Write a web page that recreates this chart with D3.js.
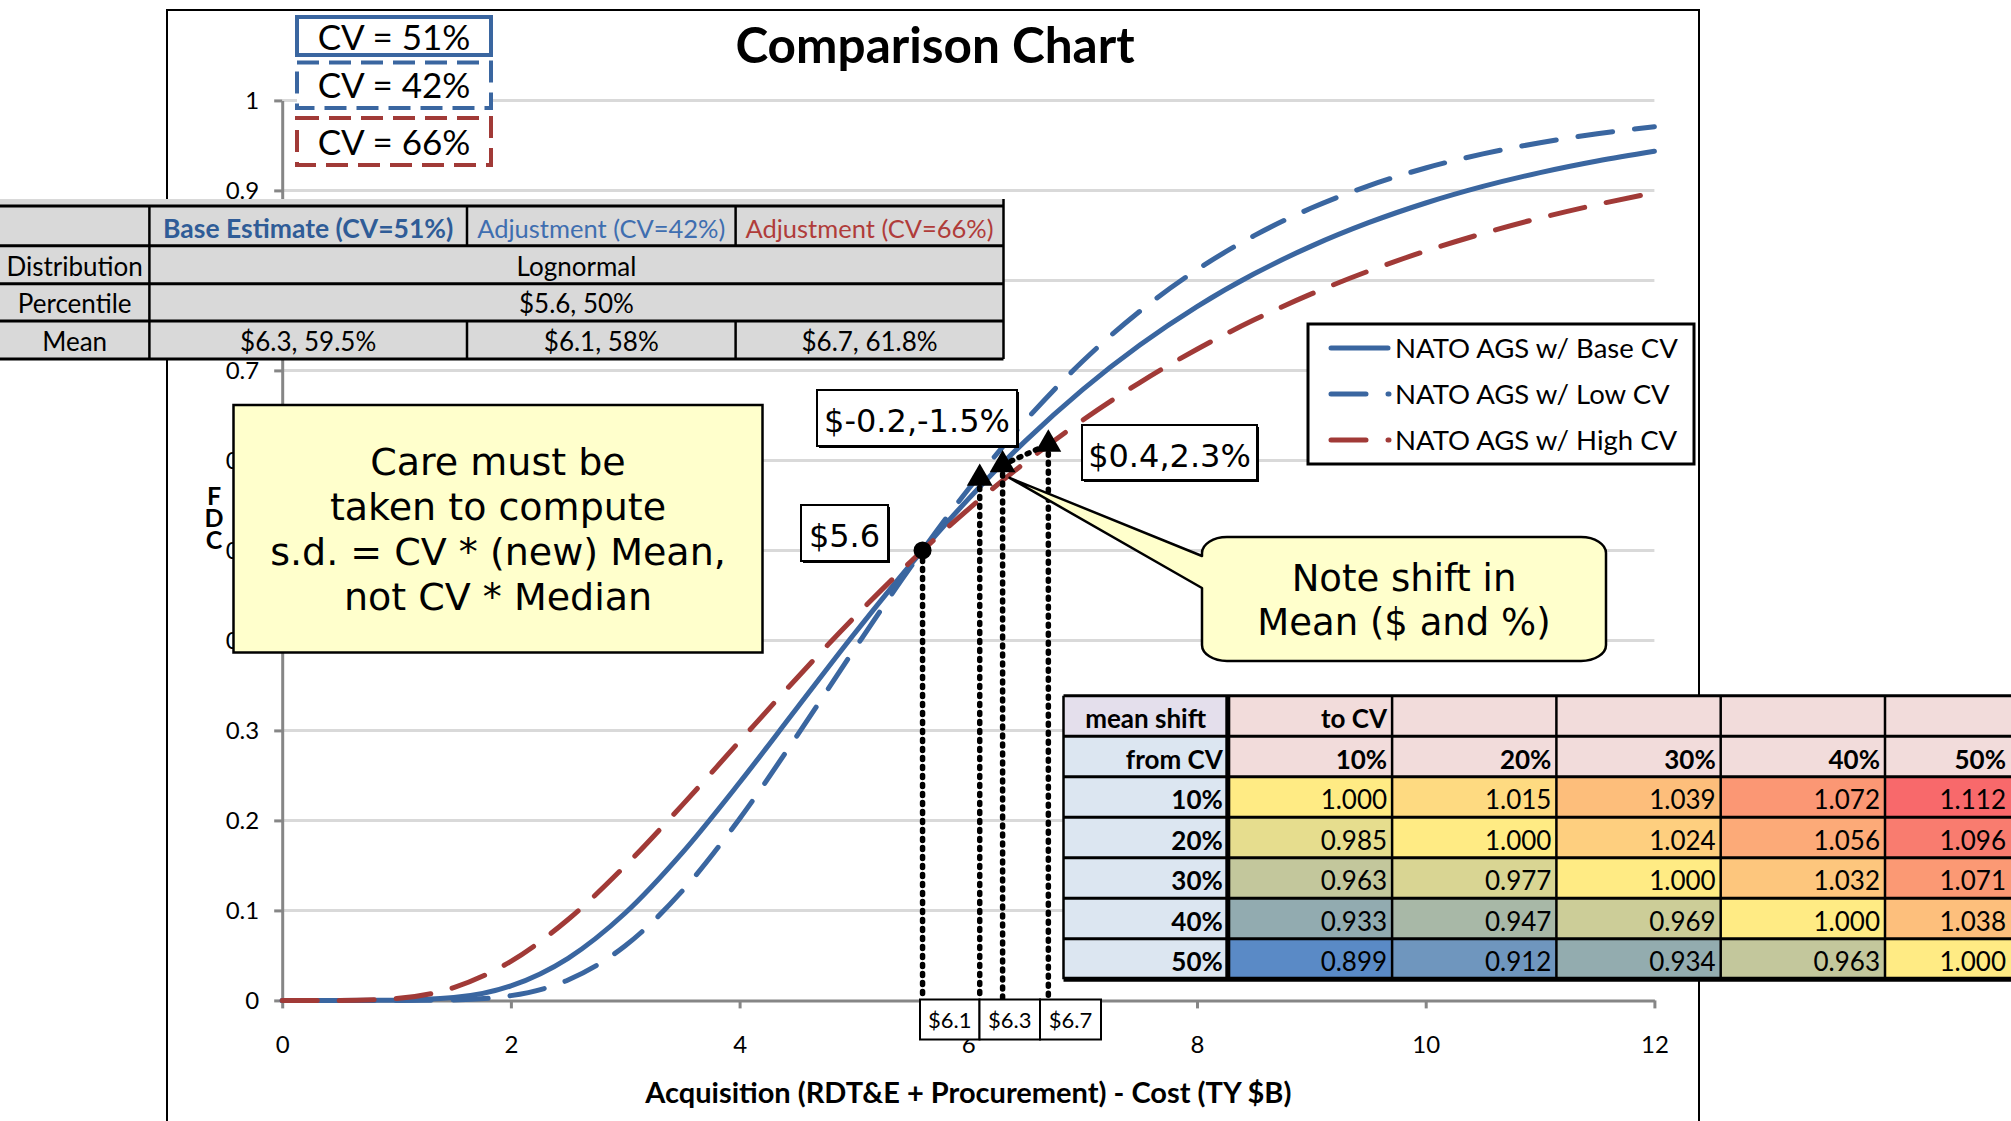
<!DOCTYPE html>
<html>
<head>
<meta charset="utf-8">
<script src="https://cdn.jsdelivr.net/npm/d3@7"></script>
<style>
  body { margin: 0; background: #fff; }
  svg { display: block; }
  text { font-family: Lato, "Noto Sans", sans-serif; fill: #000; }
  .vd { font-family: "DejaVu Sans", Verdana, sans-serif; }
  .stack { writing-mode: vertical-rl; text-orientation: upright; }
</style>
</head>
<body>
<svg id="chart" width="2011" height="1121"></svg>
<script>
// ---- data -------------------------------------------------------------
const costX    = [0, 0.5, 1, 1.5, 2, 2.5, 3, 3.5, 4, 4.5, 5, 5.5, 6, 6.5, 7, 7.5, 8, 8.5, 9, 9.5, 10, 10.5, 11, 11.5, 12];
const cdfBase  = [0, 0.0000, 0.0002, 0.0031, 0.0161, 0.0468, 0.0971, 0.1642, 0.2421, 0.3246, 0.4068, 0.4851, 0.5570, 0.6217, 0.6787, 0.7282, 0.7709, 0.8073, 0.8381, 0.8641, 0.8860, 0.9044, 0.9198, 0.9327, 0.9435];
const cdfLow   = [0, 0.0000, 0.0000, 0.0005, 0.0053, 0.0227, 0.0607, 0.1218, 0.2019, 0.2937, 0.3893, 0.4822, 0.5680, 0.6442, 0.7101, 0.7657, 0.8119, 0.8497, 0.8804, 0.9051, 0.9249, 0.9406, 0.9530, 0.9629, 0.9707];
const cdfHigh  = [0, 0.0000, 0.0021, 0.0142, 0.0434, 0.0899, 0.1496, 0.2172, 0.2879, 0.3580, 0.4252, 0.4880, 0.5457, 0.5979, 0.6447, 0.6865, 0.7235, 0.7562, 0.7850, 0.8103, 0.8326, 0.8521, 0.8693, 0.8843, 0.8975];
const seriesNames = ["NATO AGS w/ Base CV", "NATO AGS w/ Low CV", "NATO AGS w/ High CV"];
const cvLabels    = ["CV = 51%", "CV = 42%", "CV = 66%"];
const yTitle      = "FDC";

const xTicks = [0, 2, 4, 6, 8, 10, 12];
const yTicks = [0, 0.1, 0.2, 0.3, 0.4, 0.5, 0.6, 0.7, 0.8, 0.9, 1];

// median point and the three means (cost $B, cumulative probability)
const medianCost = 5.6, medianProb = 0.5;
const meanCost   = [6.1, 6.3, 6.7];          // low CV, base CV, high CV
const meanProb   = [0.58, 0.595, 0.618];
const meanLabels = ["$6.1", "$6.3", "$6.7"];
const shiftLabels = ["$-0.2,-1.5%", "$0.4,2.3%"];

// summary table
const estHeaders = ["Base Estimate (CV=51%)", "Adjustment (CV=42%)", "Adjustment (CV=66%)"];
const rowHeads   = ["Distribution", "Percentile", "Mean"];
const distName   = "Lognormal";
const pctText    = "$5.6, 50%";
const meanTexts  = ["$6.3, 59.5%", "$6.1, 58%", "$6.7, 61.8%"];

// mean-shift multiplier table
const fromCV = ["10%", "20%", "30%", "40%", "50%"];
const toCV   = ["10%", "20%", "30%", "40%", "50%"];
const shiftValues = [
  [1.000, 1.015, 1.039, 1.072, 1.112],
  [0.985, 1.000, 1.024, 1.056, 1.096],
  [0.963, 0.977, 1.000, 1.032, 1.071],
  [0.933, 0.947, 0.969, 1.000, 1.038],
  [0.899, 0.912, 0.934, 0.963, 1.000]
];

const noteLines = ["Care must be", "taken to compute", "s.d. = CV * (new) Mean,", "not CV * Median"];
const calloutLines = ["Note shift in", "Mean ($ and %)"];

// ---- setup ------------------------------------------------------------
const BLUE = "#3a66a0", RED = "#a13a37", GRID = "#d9d9d9", AXIS = "#868686";
const svg = d3.select("#chart");
svg.append("rect").attr("width", 2011).attr("height", 1121).attr("fill", "#fff");

const x = d3.scaleLinear().domain([0, 12]).range([282.2, 1654.4]);
const y = d3.scaleLinear().domain([0, 1]).range([1000.4, 100.4]);

// chart frame
svg.append("rect").attr("x", 167).attr("y", 10).attr("width", 1532).attr("height", 1160)
  .attr("fill", "none").attr("stroke", "#000").attr("stroke-width", 2);

// gridlines
svg.append("g").selectAll("line").data(yTicks.filter(d => d > 0)).join("line")
  .attr("x1", x(0)).attr("x2", x(12)).attr("y1", d => y(d)).attr("y2", d => y(d))
  .attr("stroke", GRID).attr("stroke-width", 3);

// axes
const yAxis = svg.append("g").attr("transform", `translate(${x(0)},0)`)
  .call(d3.axisLeft(y).tickValues(yTicks).tickSize(8).tickSizeOuter(0).tickPadding(15)
    .tickFormat(d => d === 0 ? "0" : d === 1 ? "1" : d3.format(".1f")(d)));
const xAxis = svg.append("g").attr("transform", `translate(0,${y(0)})`)
  .call(d3.axisBottom(x).tickValues(xTicks).tickSize(8).tickSizeOuter(0).tickPadding(28)
    .tickFormat(d3.format("d")));
[yAxis, xAxis].forEach(g => {
  g.select(".domain").attr("stroke", AXIS).attr("stroke-width", 3);
  g.selectAll(".tick line").attr("stroke", AXIS).attr("stroke-width", 3);
  g.selectAll(".tick text").attr("font-size", 24).attr("font-family", "Lato").attr("fill", "#000");
});

// axis titles
svg.append("text").attr("x", (x(0) + x(12)) / 2).attr("y", 1103).attr("text-anchor", "middle")
  .attr("font-size", 29).attr("font-weight", "bold")
  .text("Acquisition (RDT&E + Procurement) - Cost (TY $B)");
svg.append("text").attr("class", "stack").attr("x", 214).attr("y", 480)
  .attr("font-size", 25).attr("font-weight", "bold").style("letter-spacing", "-8px")
  .text(yTitle);

// ---- curves -----------------------------------------------------------
const series = [
  { name: seriesNames[0], values: cdfBase, color: BLUE, dash: null },
  { name: seriesNames[1], values: cdfLow,  color: BLUE, dash: "35,22" },
  { name: seriesNames[2], values: cdfHigh, color: RED,  dash: "35,22" }
];
const line = d3.line().x((d, i) => x(costX[i])).y(d => y(d)).curve(d3.curveMonotoneX);
svg.append("g").selectAll("path").data(series).join("path")
  .attr("d", d => line(d.values))
  .attr("fill", "none").attr("stroke", d => d.color).attr("stroke-width", 5)
  .attr("stroke-linecap", "round").attr("stroke-linejoin", "round")
  .attr("stroke-dasharray", d => d.dash);

// ---- median / mean markers ---------------------------------------------
const dotted = svg.append("g").attr("stroke", "#000").attr("stroke-width", 5.5)
  .attr("stroke-linecap", "round").attr("stroke-dasharray", "2,7");
dotted.append("line").attr("x1", x(medianCost)).attr("x2", x(medianCost))
  .attr("y1", y(medianProb)).attr("y2", y(0));
meanCost.forEach((c, i) => {
  dotted.append("line").attr("x1", x(c)).attr("x2", x(c)).attr("y1", y(meanProb[i])).attr("y2", y(0));
});
dotted.append("line").attr("x1", x(meanCost[1])).attr("y1", y(meanProb[1]))
  .attr("x2", x(meanCost[2])).attr("y2", y(meanProb[2]));

svg.append("circle").attr("cx", x(medianCost)).attr("cy", y(medianProb)).attr("r", 9).attr("fill", "#000");
svg.append("g").selectAll("path").data(meanCost).join("path")
  .attr("transform", (d, i) => `translate(${x(d)},${y(meanProb[i])})`)
  .attr("d", d3.symbol(d3.symbolTriangle).size(290)).attr("fill", "#000");

// boxed labels with a small drop shadow
function labelBox(x0, y0, x1, y1, str, base, cls, size) {
  const g = svg.append("g");
  g.append("rect").attr("x", x0 + 2).attr("y", y0 + 2).attr("width", x1 - x0).attr("height", y1 - y0).attr("fill", "#000");
  g.append("rect").attr("x", x0).attr("y", y0).attr("width", x1 - x0).attr("height", y1 - y0)
    .attr("fill", "#fff").attr("stroke", "#000").attr("stroke-width", 2);
  g.append("text").attr("class", cls).attr("x", (x0 + x1) / 2).attr("y", base)
    .attr("text-anchor", "middle").attr("font-size", size).text(str);
}
labelBox(801, 505, 888, 561, "$" + medianCost.toFixed(1), 547, "vd", 32);
labelBox(817, 390, 1017, 446, shiftLabels[0], 432, "vd", 32);
labelBox(1082, 425, 1257, 480, shiftLabels[1], 467, "vd", 32);

// mean labels along the x axis
const mBox = [920, 979.5, 1040, 1101];
meanLabels.forEach((s, i) => {
  svg.append("rect").attr("x", mBox[i]).attr("y", 999.5).attr("width", mBox[i + 1] - mBox[i]).attr("height", 40)
    .attr("fill", "#fff").attr("stroke", "#000").attr("stroke-width", 2);
  svg.append("text").attr("x", (mBox[i] + mBox[i + 1]) / 2).attr("y", 1028).attr("text-anchor", "middle")
    .attr("font-size", 22).text(s);
});

// ---- note boxes -------------------------------------------------------
svg.append("rect").attr("x", 233.5).attr("y", 405).attr("width", 529).attr("height", 247.5)
  .attr("fill", "#ffffcc").attr("stroke", "#000").attr("stroke-width", 2.5);
svg.append("g").selectAll("text").data(noteLines).join("text").attr("class", "vd")
  .attr("x", 498).attr("y", (d, i) => 475 + i * 45).attr("text-anchor", "middle")
  .attr("font-size", 38).text(d => d);

// callout with a pointer to the base-CV mean
{
  const x0 = 1202, y0 = 537, x1 = 1606, y1 = 661, rx = 25, ry = 16;
  const tx = x(meanCost[1]) + 7, ty = y(meanProb[1]) + 13;
  const p = `M${x0 + rx},${y0} H${x1 - rx} A${rx},${ry} 0 0 1 ${x1},${y0 + ry} V${y1 - ry}
    A${rx},${ry} 0 0 1 ${x1 - rx},${y1} H${x0 + rx} A${rx},${ry} 0 0 1 ${x0},${y1 - ry}
    V588 L${tx},${ty} L${x0},556 V${y0 + ry} A${rx},${ry} 0 0 1 ${x0 + rx},${y0} Z`;
  svg.append("path").attr("d", p).attr("fill", "#ffffcc").attr("stroke", "#000")
    .attr("stroke-width", 2.5).attr("stroke-linejoin", "round");
  svg.append("g").selectAll("text").data(calloutLines).join("text").attr("class", "vd")
    .attr("x", 1404).attr("y", (d, i) => 591 + i * 44).attr("text-anchor", "middle")
    .attr("font-size", 37).text(d => d);
}

// ---- legend -----------------------------------------------------------
{
  const lg = svg.append("g");
  lg.append("rect").attr("x", 1308).attr("y", 324).attr("width", 386).attr("height", 140)
    .attr("fill", "#fff").attr("stroke", "#000").attr("stroke-width", 3);
  series.forEach((s, i) => {
    const cy = 348 + i * 46;
    lg.append("line").attr("x1", 1331).attr("x2", s.dash ? 1389 : 1388).attr("y1", cy).attr("y2", cy)
      .attr("stroke", s.color).attr("stroke-width", 5).attr("stroke-linecap", "round")
      .attr("stroke-dasharray", s.dash);
    lg.append("text").attr("x", 1395).attr("y", cy + 10).attr("font-size", 27.5).text(s.name);
  });
}

// ---- mean-shift table ---------------------------------------------------
{
  const left = 1063.5, top = 695.7, cw = 164.3, rh = 40.5, right = 2011;
  const colX = c => Math.min(left + c * cw, right);
  const allVals = shiftValues.flat();
  const heat = d3.scaleLinear()
    .domain([d3.min(allVals), d3.median(allVals), d3.max(allVals)])
    .range(["#5a8ac6", "#ffeb84", "#f8696b"]);
  const tg = svg.append("g");
  const cell = (c, r, fill) => tg.append("rect").attr("x", colX(c)).attr("y", top + r * rh)
    .attr("width", colX(c + 1) - colX(c)).attr("height", rh).attr("fill", fill);
  const label = (c, r, s, bold, anchor) => tg.append("text")
    .attr("x", anchor === "middle" ? (colX(c) + colX(c + 1)) / 2 : colX(c + 1) - 5)
    .attr("y", top + (r + 1) * rh - 8).attr("text-anchor", anchor || "end")
    .attr("font-size", 26).attr("font-weight", bold ? "bold" : "normal").text(s);

  cell(0, 0, "#e4dfec"); label(0, 0, "mean shift", true, "middle");
  cell(0, 1, "#dce6f1"); label(0, 1, "from CV", true);
  for (let c = 1; c <= 5; c++) { cell(c, 0, "#f2dcdb"); cell(c, 1, "#f2dcdb"); label(c, 1, toCV[c - 1], true); }
  label(1, 0, "to CV", true);
  shiftValues.forEach((row, r) => {
    cell(0, r + 2, "#dce6f1"); label(0, r + 2, fromCV[r], true);
    row.forEach((v, c) => { cell(c + 1, r + 2, heat(v)); label(c + 1, r + 2, v.toFixed(3), false); });
  });
  const bottom = top + 7 * rh;
  for (let r = 0; r <= 7; r++) {
    tg.append("line").attr("x1", left).attr("x2", right).attr("y1", top + r * rh).attr("y2", top + r * rh)
      .attr("stroke", "#000").attr("stroke-width", r === 7 ? 5 : 3);
  }
  for (let c = 0; c <= 5; c++) {
    tg.append("line").attr("x1", colX(c)).attr("x2", colX(c)).attr("y1", top).attr("y2", bottom)
      .attr("stroke", "#000").attr("stroke-width", c === 1 ? 5 : 2.5);
  }
}

// ---- estimate summary table ----------------------------------------------
{
  const cols = [0, 149.4, 467, 735.6, 1003.5];
  const rows = [206, 245.7, 283.7, 321, 359];
  const sg = svg.append("g");
  sg.append("rect").attr("x", 0).attr("y", 199).attr("width", cols[4]).attr("height", rows[4] - 199).attr("fill", "#d9d9d9");
  rows.forEach(r => sg.append("line").attr("x1", 0).attr("x2", cols[4]).attr("y1", r).attr("y2", r)
    .attr("stroke", "#000").attr("stroke-width", 3));
  sg.append("line").attr("x1", cols[1]).attr("x2", cols[1]).attr("y1", rows[0]).attr("y2", rows[4]).attr("stroke", "#000").attr("stroke-width", 2.5);
  sg.append("line").attr("x1", cols[4]).attr("x2", cols[4]).attr("y1", 199).attr("y2", rows[4]).attr("stroke", "#000").attr("stroke-width", 2.5);
  [2, 3].forEach(c => {
    [[0, 1], [3, 4]].forEach(([a, b]) => sg.append("line").attr("x1", cols[c]).attr("x2", cols[c])
      .attr("y1", rows[a]).attr("y2", rows[b]).attr("stroke", "#000").attr("stroke-width", 2.5));
  });
  const mid = c => (cols[c] + cols[c + 1]) / 2;
  const hdrColors = ["#2f5c97", "#3f6eb0", "#b03c3a"];
  estHeaders.forEach((h, i) => sg.append("text").attr("x", mid(i + 1)).attr("y", 238).attr("text-anchor", "middle")
    .attr("font-size", i === 0 ? 26.5 : 25.5).attr("font-weight", i === 0 ? "bold" : "normal").style("fill", hdrColors[i]).text(h));
  rowHeads.forEach((h, i) => sg.append("text").attr("x", mid(0)).attr("y", rows[i + 2] - 8).attr("text-anchor", "middle")
    .attr("font-size", 26).text(h));
  const span = (cols[1] + cols[4]) / 2;
  sg.append("text").attr("x", span).attr("y", rows[2] - 8).attr("text-anchor", "middle").attr("font-size", 26).text(distName);
  sg.append("text").attr("x", span).attr("y", rows[3] - 8).attr("text-anchor", "middle").attr("font-size", 26).text(pctText);
  meanTexts.forEach((t, i) => sg.append("text").attr("x", mid(i + 1)).attr("y", rows[4] - 8).attr("text-anchor", "middle")
    .attr("font-size", 26).text(t));
}

// ---- CV boxes -----------------------------------------------------------
{
  const boxes = [
    { y0: 17, y1: 55, color: BLUE, dash: null, base: 50 },
    { y0: 62.5, y1: 108, color: BLUE, dash: "22,10", base: 98 },
    { y0: 118, y1: 165, color: RED, dash: "22,10", base: 155 }
  ];
  boxes.forEach((b, i) => {
    svg.append("rect").attr("x", 297).attr("y", b.y0).attr("width", 194).attr("height", b.y1 - b.y0)
      .attr("fill", "#fff").attr("stroke", b.color).attr("stroke-width", 4).attr("stroke-dasharray", b.dash);
    svg.append("text").attr("x", 394).attr("y", b.base).attr("text-anchor", "middle")
      .attr("font-size", 35).text(cvLabels[i]);
  });
}

// title
svg.append("text").attr("x", 935).attr("y", 63).attr("text-anchor", "middle")
  .attr("font-size", 49.5).attr("font-weight", "bold").text("Comparison Chart");
</script>
</body>
</html>
